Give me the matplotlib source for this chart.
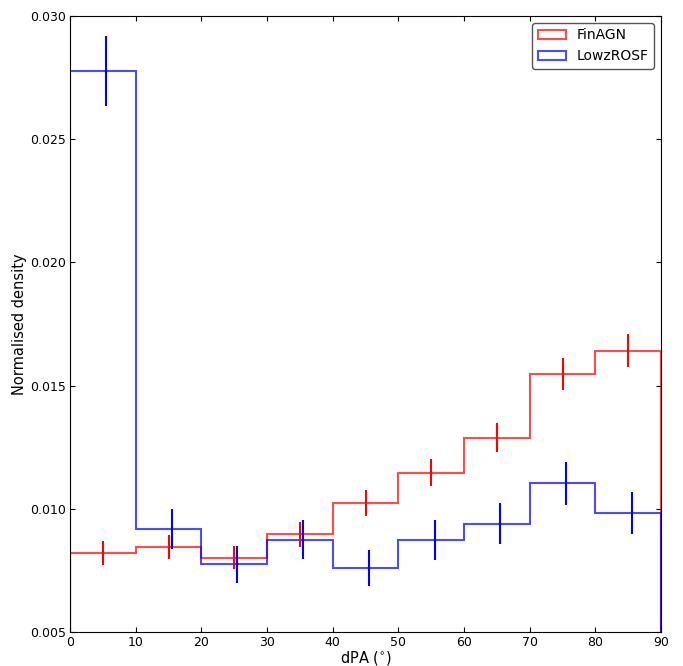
import matplotlib
matplotlib.use("Agg")
import matplotlib.pyplot as plt
import numpy as np

BIN_EDGES = [0, 10, 20, 30, 40, 50, 60, 70, 80, 90]

FIN_AGN     = [0.00821, 0.00845, 0.00802, 0.00896, 0.01024, 0.01147, 0.01289, 0.01547, 0.01642]
FIN_AGN_ERR = [0.00047, 0.00047, 0.00047, 0.00049, 0.00053, 0.00056, 0.00059, 0.00065, 0.00066]

LOWZ_ROSF     = [0.02777, 0.00918, 0.00775, 0.00875, 0.00760, 0.00873, 0.00940, 0.01103, 0.00983]
LOWZ_ROSF_ERR = [0.00141, 0.00082, 0.00075, 0.00079, 0.00074, 0.00080, 0.00082, 0.00089, 0.00084]


def main():
    edges = np.array(BIN_EDGES, dtype=float)
    centres = 0.5 * (edges[:-1] + edges[1:])

    fig = plt.figure(figsize=(6.83, 6.66), dpi=100)
    ax = fig.add_axes([0.1025, 0.051, 0.8655, 0.925])

    ax.hist(centres, bins=edges, weights=FIN_AGN, histtype="step",
            color="red", alpha=0.7, linewidth=1.5, label="FinAGN")
    ax.hist(centres, bins=edges, weights=LOWZ_ROSF, histtype="step",
            color="blue", alpha=0.7, linewidth=1.5, label="LowzROSF")

    ax.errorbar(centres, FIN_AGN, yerr=FIN_AGN_ERR, fmt="none",
                ecolor="red", elinewidth=1.5, capsize=0)
    ax.errorbar(centres + 0.5, LOWZ_ROSF, yerr=LOWZ_ROSF_ERR, fmt="none",
                ecolor="blue", elinewidth=1.5, capsize=0)

    ax.set_xlim(0, 90)
    ax.set_ylim(0.005, 0.030)
    ax.set_xticks(np.arange(0, 91, 10))
    ax.set_yticks(np.arange(0.005, 0.0301, 0.005))
    ax.set_yticklabels([f"{v:.3f}" for v in np.arange(0.005, 0.0301, 0.005)])
    ax.tick_params(direction="in", top=True, right=True, labelsize=9, pad=3)

    ax.set_xlabel("dPA ($^{\\circ}$)", fontsize=10.5, labelpad=0)
    ax.set_ylabel("Normalised density", fontsize=10.5, labelpad=2)

    ax.legend(loc="upper right", fontsize=10, framealpha=1,
              edgecolor="#555555", fancybox=True)

    fig.savefig("out.png", dpi=100)


if __name__ == "__main__":
    main()
